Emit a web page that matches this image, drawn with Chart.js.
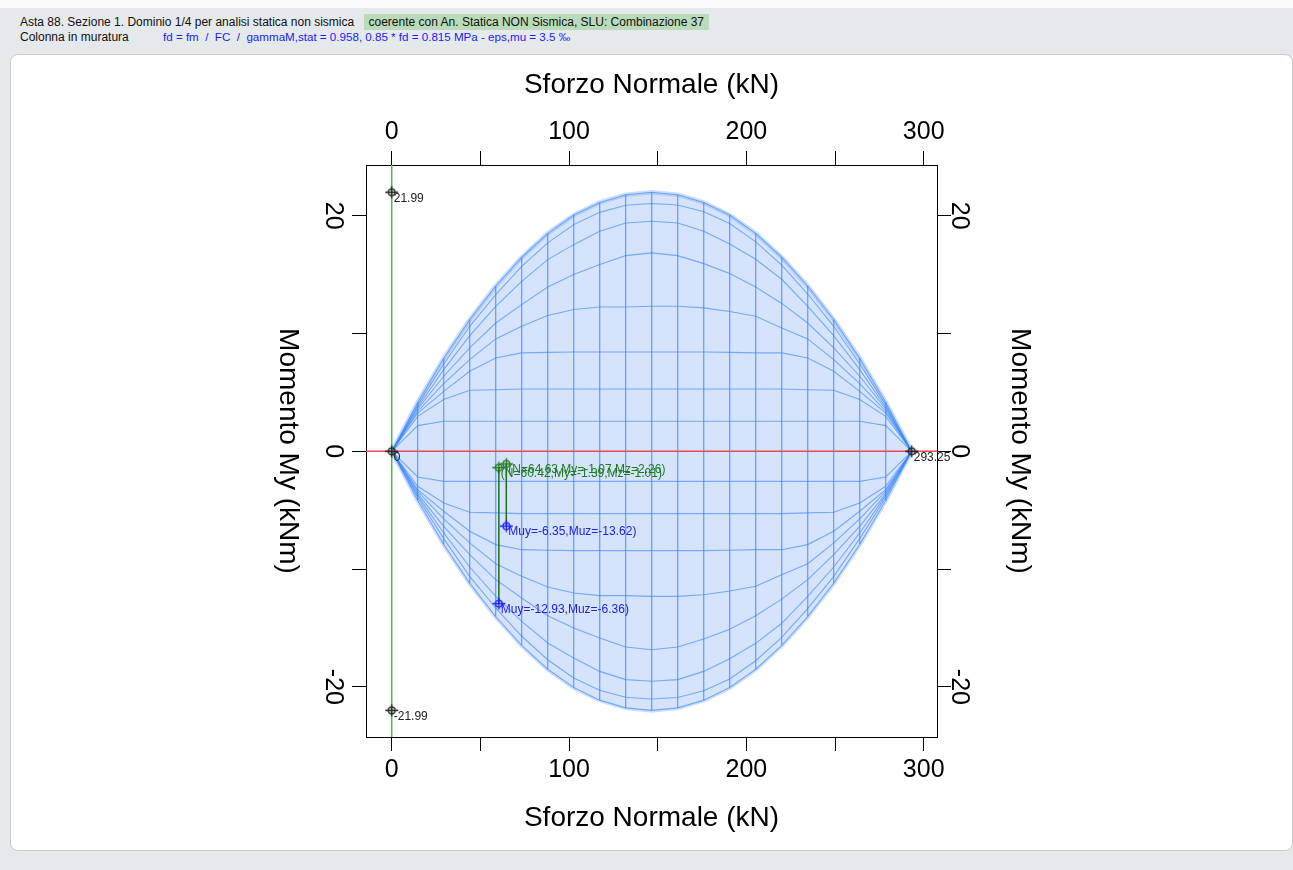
<!DOCTYPE html>
<html><head><meta charset="utf-8">
<script src="https://cdn.jsdelivr.net/npm/chart.js@4/dist/chart.umd.min.js"></script>
<style>
html,body{margin:0;padding:0;width:1293px;height:870px;overflow:hidden;background:#e6e9ec;font-family:"Liberation Sans",Arial,sans-serif;}
#topstrip{position:absolute;left:0;top:0;width:1293px;height:8px;background:#fbfbfb;}
.hl{position:absolute;left:20px;font-size:12px;white-space:nowrap;color:#111;line-height:15px;}
#l1{top:15px;}
#l2{top:30px;}
.ok{background:#b9dbb9;padding:1px 5px 1px 5px;margin-left:6px;}
.blue{color:#1a1aff;position:absolute;left:143px;top:-1px;font-size:11.6px;}
#card{position:absolute;left:10px;top:54px;width:1281px;height:795px;background:#fff;border:1px solid #c9cccf;border-radius:8px;}
canvas{position:absolute;left:0;top:0;}
</style></head><body>
<div id="topstrip"></div>
<div class="hl" id="l1">Asta 88. Sezione 1. Dominio 1/4 per analisi statica non sismica <span class="ok">coerente con An. Statica NON Sismica, SLU: Combinazione 37</span></div>
<div class="hl" id="l2">Colonna in muratura<span class="blue">fd = fm &nbsp;/ &nbsp;FC &nbsp;/ &nbsp;gammaM,stat = 0.958, 0.85 * fd = 0.815 MPa - eps,mu = 3.5 ‰</span></div>
<div id="card"></div>
<canvas id="c" width="1293" height="870"></canvas>
<script>
// ---- axis ranges & ticks ----
const xMin = -14.5, xMax = 307.5;
const yMin = -24.25, yMax = 24.3;
const xTicks = [0, 50, 100, 150, 200, 250, 300];
const xTickLabels = [0, 100, 200, 300];
const yTicks = [-20, -10, 0, 10, 20];
const yTickLabels = [-20, 0, 20];
const xTitle = "Sforzo Normale (kN)";
const yTitle = "Momento My (kNm)";

// ---- domain mesh: N stations and My iso-curves (upper half) ----
const N = [0, 14.66, 29.33, 43.99, 58.65, 73.31, 87.98, 102.64, 117.30, 131.96, 146.63,
           161.29, 175.95, 190.61, 205.28, 219.94, 234.60, 249.26, 263.93, 278.59, 293.25];
const M0 = [0, 4.17, 7.90, 11.19, 14.03, 16.47, 18.50, 20.05, 21.12, 21.78, 21.99, 21.78, 21.12, 20.05, 18.50, 16.47, 14.03, 11.19, 7.90, 4.17, 0];
const M1 = [0, 3.93, 7.41, 10.61, 13.30, 15.70, 17.69, 19.24, 20.28, 20.88, 21.03, 20.90, 20.33, 19.33, 17.78, 15.80, 13.35, 10.61, 7.41, 3.93, 0];
const M2 = [0, 3.74, 6.93, 9.82, 12.31, 14.43, 16.27, 17.54, 18.68, 19.38, 19.52, 19.38, 18.68, 17.60, 16.30, 14.60, 12.31, 9.82, 6.93, 3.74, 0];
const M3 = [0, 3.59, 6.37, 8.77, 10.89, 12.45, 13.95, 15.00, 15.85, 16.61, 16.84, 16.61, 15.93, 15.10, 13.95, 12.55, 10.89, 8.77, 6.37, 3.59, 0];
const M4 = [0, 3.40, 5.74, 7.78, 9.54, 10.61, 11.52, 12.03, 12.25, 12.25, 12.31, 12.31, 12.17, 11.86, 11.46, 10.47, 9.54, 7.78, 5.74, 3.40, 0];
const M5 = [0, 3.25, 5.09, 6.79, 7.92, 8.35, 8.40, 8.43, 8.43, 8.43, 8.43, 8.43, 8.43, 8.40, 8.35, 8.35, 7.92, 6.79, 5.09, 3.25, 0];
const M6 = [0, 2.97, 4.39, 5.18, 5.23, 5.29, 5.29, 5.29, 5.29, 5.29, 5.29, 5.29, 5.29, 5.29, 5.29, 5.29, 5.23, 5.18, 4.39, 2.97, 0];
const M7 = [0, 2.18, 2.55, 2.55, 2.55, 2.55, 2.55, 2.55, 2.55, 2.55, 2.55, 2.55, 2.55, 2.55, 2.55, 2.55, 2.55, 2.55, 2.55, 2.18, 0];
const curves = [M0, M1, M2, M3, M4, M5, M6, M7];

// ---- marked points ----
const refN = [0, 0, 0, 293.25];
const refM = [21.99, -21.99, 0, 0];
const refLabels = ["21.99", "-21.99", "0", "293.25"];
const resN = [64.63, 60.42];
const resM = [-6.35, -12.93];
const resLabels = ["Muy=-6.35,Muz=-13.62)", "Muy=-12.93,Muz=-6.36)"];
const actN = [60.42, 64.63];
const actM = [-1.39, -1.07];
const actLabels = ["(N=60.42,My=-1.39,Mz=-1.01)", "(N=64.63,My=-1.07,Mz=2.26)"];
const resForAct = [-12.93, -6.35];

const FONT = '"Liberation Sans", Arial, Helvetica, sans-serif';

function marker(color) {
  const cv = document.createElement('canvas');
  cv.width = 15; cv.height = 15;
  const g = cv.getContext('2d');
  g.strokeStyle = color; g.lineWidth = 1.3;
  g.beginPath(); g.arc(7.5, 7.5, 3.4, 0, Math.PI * 2); g.stroke();
  g.beginPath(); g.moveTo(1, 7.5); g.lineTo(14, 7.5); g.moveTo(7.5, 1.5); g.lineTo(7.5, 13.5); g.stroke();
  return cv;
}
const pts = (xs, ys) => xs.map((x, i) => ({x, y: ys[i]}));
const neg = a => a.map(v => -v);

const datasets = [];
// markers (top-most)
datasets.push({data: pts(refN, refM), pointStyle: marker('#222'), pointRadius: 6, showLine: false, order: 0});
datasets.push({data: pts(resN, resM), pointStyle: marker('#2020ee'), pointRadius: 6, showLine: false, order: 0});
datasets.push({data: pts(actN, actM), pointStyle: marker('#1f7a1f'), pointRadius: 6, showLine: false, order: 0});
// connectors from acting point to resisting point
const conn = [];
actN.forEach((n, i) => { conn.push({x: n, y: actM[i]}, {x: n, y: resForAct[i]}, {x: n, y: null}); });
datasets.push({data: conn, borderColor: '#1c6e1c', borderWidth: 1.5, pointRadius: 0, spanGaps: false, order: 1});
// red M=0 line, green N=0 line
datasets.push({data: [{x: xMin, y: 0}, {x: xMax, y: 0}], borderColor: '#ea4b56', borderWidth: 1.4, pointRadius: 0, order: 2});
datasets.push({data: [{x: 0, y: yMin}, {x: 0, y: yMax}], borderColor: '#56b656', borderWidth: 1.6, pointRadius: 0, order: 2});
// vertical mesh lines
const vert = [];
N.forEach((n, i) => { if (i > 0 && i < N.length - 1) vert.push({x: n, y: -M0[i]}, {x: n, y: M0[i]}, {x: n, y: null}); });
datasets.push({data: vert, borderColor: 'rgba(55,130,248,0.75)', borderWidth: 1.2, pointRadius: 0, spanGaps: false, order: 5});
// iso curves
curves.forEach(M => {
  datasets.push({data: pts(N, M), borderColor: 'rgba(55,130,248,0.6)', borderWidth: 1.1, pointRadius: 0, order: 6});
  datasets.push({data: pts(N, neg(M)), borderColor: 'rgba(55,130,248,0.6)', borderWidth: 1.1, pointRadius: 0, order: 6});
});
// filled envelope (upper fills down to lower)
datasets.push({data: pts(N, M0), borderColor: 'rgba(125,172,250,0.4)', borderWidth: 4.5, pointRadius: 0, fill: '+1', backgroundColor: '#d5e3fc', order: 20});
datasets.push({data: pts(N, neg(M0)), borderColor: 'rgba(125,172,250,0.4)', borderWidth: 4.5, pointRadius: 0, order: 20});

const gridOpts = {drawOnChartArea: false, drawTicks: true, tickLength: 14, color: '#000', lineWidth: 1};
const borderOpts = {display: true, color: '#000', width: 1};
const xTickOpts = {
  autoSkip: false, maxRotation: 0, minRotation: 0, padding: 4, color: '#000',
  font: {family: FONT, size: 25},
  callback: v => xTickLabels.includes(v) ? String(v) : ''
};
const setTicks = arr => s => { s.ticks = arr.map(v => ({value: v})); };

const deco = {
  id: 'deco',
  afterDraw(c) {
    const g = c.ctx, ys = c.scales.y, xs = c.scales.x, a = c.chartArea;
    g.save();
    g.fillStyle = '#000'; g.textAlign = 'center'; g.textBaseline = 'middle';
    g.font = '25px ' + FONT;
    yTickLabels.forEach(v => {
      const py = ys.getPixelForValue(v);
      [333, 959].forEach(px => { g.save(); g.translate(px, py); g.rotate(Math.PI / 2); g.fillText(String(v), 0, 0); g.restore(); });
    });
    g.font = '28px ' + FONT;
    const cx = (a.left + a.right) / 2, cy = (a.top + a.bottom) / 2;
    g.fillText(xTitle, cx, 85);
    g.fillText(xTitle, cx, 818);
    [288, 1020].forEach(px => { g.save(); g.translate(px, cy); g.rotate(Math.PI / 2); g.fillText(yTitle, 0, 0); g.restore(); });
    g.textAlign = 'left';
    g.font = '12px ' + FONT;
    const lab = (ns, ms, ls, col) => {
      g.fillStyle = col;
      ns.forEach((n, i) => g.fillText(ls[i], xs.getPixelForValue(n) + 2, ys.getPixelForValue(ms[i]) + 6));
    };
    lab(refN, refM, refLabels, '#222');
    lab(resN, resM, resLabels, '#2020ee');
    lab(actN, actM, actLabels, '#1f7a1f');
    g.restore();
  }
};

new Chart(document.getElementById('c'), {
  type: 'line',
  data: {datasets},
  options: {
    responsive: false, animation: false, parsing: true,
    layout: {padding: 0},
    plugins: {legend: {display: false}, tooltip: {enabled: false}},
    elements: {line: {tension: 0}},
    scales: {
      x: {type: 'linear', position: 'bottom', min: xMin, max: xMax, afterBuildTicks: setTicks(xTicks),
          ticks: xTickOpts, grid: gridOpts, border: borderOpts, afterFit: s => { s.height = 870 - 737; }},
      x2: {type: 'linear', position: 'top', min: xMin, max: xMax, afterBuildTicks: setTicks(xTicks),
          ticks: xTickOpts, grid: gridOpts, border: borderOpts, afterFit: s => { s.height = 165; }},
      y: {type: 'linear', position: 'left', min: yMin, max: yMax, afterBuildTicks: setTicks(yTicks),
          ticks: {display: false}, grid: gridOpts, border: borderOpts, afterFit: s => { s.width = 366; }},
      y2: {type: 'linear', position: 'right', min: yMin, max: yMax, afterBuildTicks: setTicks(yTicks),
          ticks: {display: false}, grid: gridOpts, border: borderOpts, afterFit: s => { s.width = 1293 - 937; }}
    }
  },
  plugins: [deco]
});
</script>
</body></html>
